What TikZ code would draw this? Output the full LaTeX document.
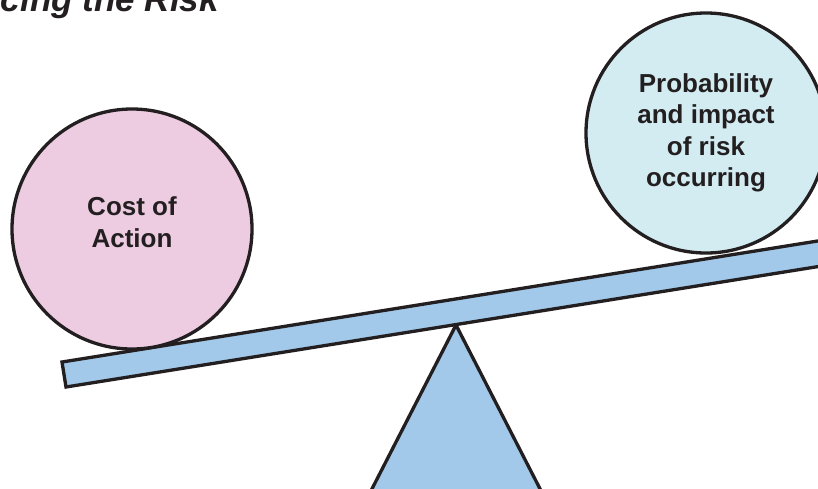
\documentclass[tikz,border=0pt]{standalone}
\usepackage{fontspec}
\setmainfont{Liberation Sans}
\begin{document}
\begin{tikzpicture}[x=1pt,y=-1pt,
  ink/.style={draw=inkc,line width=3.3pt,line join=miter},
  label/.style={text=inkc,font=\fontsize{26}{31.5}\selectfont\bfseries,align=center}]
\definecolor{inkc}{HTML}{231F20}
\definecolor{pinkfill}{HTML}{EDCCE1}
\definecolor{cyanfill}{HTML}{D2ECF2}
\definecolor{bluefill}{HTML}{A2C9E9}
\useasboundingbox (0,0) rectangle (818,488);
\clip (0,0) rectangle (818,488);
% title
\node[anchor=base east,inner sep=0pt,text=inkc,
  font=\fontsize{35}{40}\selectfont\bfseries\itshape] (title) at (219,11) {Balancing the Risk};
% fulcrum
\draw[ink,fill=bluefill] (456,325) coordinate (apex) -- (356,520) -- (556,520) -- cycle;
% beam
\draw[ink,fill=bluefill] (62,362) -- (66,387) -- (856,260.5) -- (852,235.5) -- cycle;
% weights
\node[ink,fill=pinkfill,circle,minimum size=240pt,inner sep=0pt] (cost) at (132,229) {};
\node[label] at (132,222) {Cost of\\Action};
\node[ink,fill=cyanfill,circle,minimum size=240pt,inner sep=0pt] (risk) at (706,133) {};
\node[label] at (706,133) {Probability\\and impact\\of risk\\occurring};
\end{tikzpicture}
\end{document}
